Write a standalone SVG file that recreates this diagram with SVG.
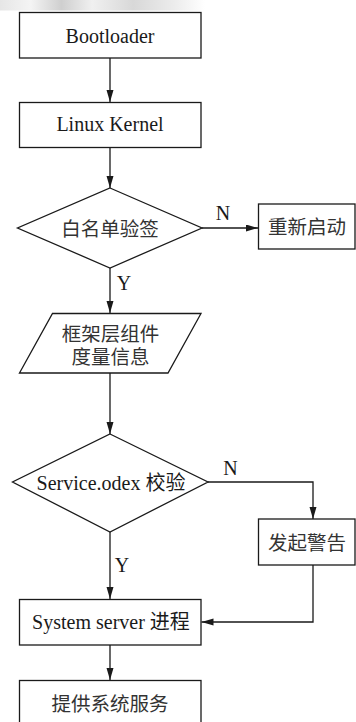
<svg xmlns="http://www.w3.org/2000/svg" width="356" height="722" viewBox="0 0 356 722">
<style>
.box{fill:#fff;stroke:#1a1a1a;stroke-width:1.3}
.ln{fill:none;stroke:#1a1a1a;stroke-width:1.3}
.t{font-family:"Liberation Serif","Noto Sans CJK SC",serif;font-size:20px;fill:#1a1a1a;text-anchor:middle}
.c{font-family:"Liberation Serif","Noto Sans CJK SC",serif;font-size:19.5px;fill:#333;text-anchor:middle}
</style>
<defs>
<marker id="ah" markerUnits="userSpaceOnUse" markerWidth="13" markerHeight="8" refX="12" refY="3.5" orient="auto">
<path d="M0,0 L12,3.5 L0,7 z" fill="#1a1a1a"/>
</marker>
<linearGradient id="bg" x1="0" y1="0" x2="1" y2="0">
<stop offset="0" stop-color="#e6e6e6"/>
<stop offset="0.15" stop-color="#f4f4f4"/>
<stop offset="0.3" stop-color="#cfcfcf"/>
<stop offset="0.45" stop-color="#f0f0f0"/>
<stop offset="0.65" stop-color="#d8d8d8"/>
<stop offset="0.85" stop-color="#ececec"/>
<stop offset="1" stop-color="#ffffff"/>
</linearGradient>
</defs>
<rect x="0" y="0" width="205" height="10.5" fill="url(#bg)"/>
<g id="connectors">
<line class="ln" x1="110" y1="58" x2="110" y2="102" marker-end="url(#ah)"/>
<line class="ln" x1="110" y1="147.5" x2="110" y2="188" marker-end="url(#ah)"/>
<line class="ln" x1="202" y1="228" x2="258" y2="228" marker-end="url(#ah)"/>
<line class="ln" x1="110" y1="268" x2="110" y2="313" marker-end="url(#ah)"/>
<line class="ln" x1="110" y1="373" x2="110" y2="434" marker-end="url(#ah)"/>
<polyline class="ln" points="208,482 313,482 313,519" marker-end="url(#ah)"/>
<line class="ln" x1="110" y1="532" x2="110" y2="599" marker-end="url(#ah)"/>
<polyline class="ln" points="313,565 313,622 201.5,622" marker-end="url(#ah)"/>
<line class="ln" x1="110" y1="645" x2="110" y2="680" marker-end="url(#ah)"/>
<text class="t" x="223" y="220">N</text>
<text class="t" x="124" y="290">Y</text>
<text class="t" x="230.5" y="475">N</text>
<text class="t" x="122" y="572">Y</text>
</g>
<g id="bootloader">
<rect class="box" x="19.5" y="12.5" width="181.5" height="45.5"/>
<text class="t" x="110" y="43">Bootloader</text>
</g>
<g id="kernel">
<rect class="box" x="19.5" y="102.5" width="181.5" height="45"/>
<text class="t" x="110" y="131">Linux Kernel</text>
</g>
<g id="whitelist">
<polygon class="box" points="110,188 202,228 110,268 17.5,228"/>
<text class="c" x="110" y="235.5">白名单验签</text>
</g>
<g id="restart">
<rect class="box" x="258.5" y="204" width="96.5" height="45"/>
<text class="c" x="307" y="234">重新启动</text>
</g>
<g id="measure">
<polygon class="box" points="52.5,313.5 201,313.5 168,373 19.5,373"/>
<text class="c" x="110.5" y="340.5">框架层组件</text>
<text class="c" x="110.5" y="364">度量信息</text>
</g>
<g id="odex">
<polygon class="box" points="110,434 208,482 110,532 12.5,482"/>
<text class="t" x="111" y="490">Service.odex 校验</text>
</g>
<g id="warn">
<rect class="box" x="258.5" y="519" width="96.5" height="46"/>
<text class="c" x="307" y="549.5">发起警告</text>
</g>
<g id="sysserver">
<rect class="box" x="19.5" y="599.5" width="181.5" height="45.5"/>
<text class="t" x="111" y="628.5">System server 进程</text>
</g>
<g id="service">
<rect class="box" x="19.5" y="680.5" width="181.5" height="50"/>
<text class="c" x="110" y="710.5">提供系统服务</text>
</g>
</svg>
